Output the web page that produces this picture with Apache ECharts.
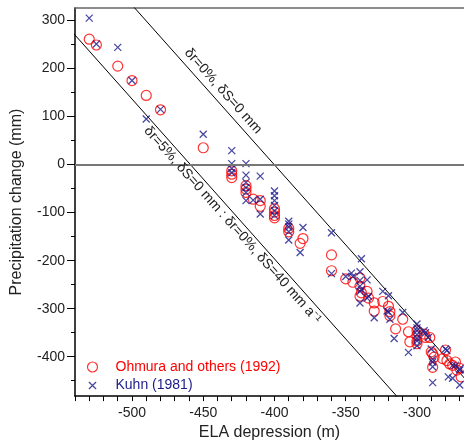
<!DOCTYPE html>
<html><head><meta charset="utf-8">
<script src="https://cdn.jsdelivr.net/npm/echarts@6/dist/echarts.min.js"></script>
<style>html,body{margin:0;padding:0;background:#fff}#c{width:464px;height:446px}</style>
</head><body><div id="c"></div>
<script>
// ---- data ----
const ohmuraX = [-530,-525,-510,-500,-490,-480,-450,-430,-430,-430,-420,-420,-420,-415,-410,-410,-400,-400,-400,-400,-390,-390,-380,-382,-360,-360,-350,-345,-340,-340,-339,-340,-335,-334,-330,-330,-324,-320,-319,-319,-315,-310,-306,-305,-300,-300,-300,-300,-295,-294,-291,-290,-289,-288,-289,-280,-282,-279,-277,-275,-273,-272,-270,-269];
const ohmuraY = [261,249,205,175,144,114,35,-13,-20,-27,-44,-51,-58,-72,-75,-87,-92,-99,-106,-111,-133,-140,-154,-164,-188,-221,-238,-245,-236,-253,-267,-274,-264,-278,-288,-305,-285,-295,-306,-315,-342,-322,-348,-369,-346,-356,-367,-373,-353,-360,-360,-390,-394,-401,-422,-386,-404,-408,-415,-418,-411,-428,-424,-442];
const kuhnX = [-530,-525,-510,-500,-490,-480,-450,-430,-430,-430,-430,-420,-420,-420,-420,-420,-420,-415,-410,-410,-410,-400,-400,-400,-400,-400,-400,-390,-390,-390,-390,-390,-380,-382,-360,-360,-339,-350,-346,-345,-340,-340,-340,-339,-340,-340,-335,-334,-335,-330,-324,-320,-321,-320,-319,-316,-310,-306,-300,-300,-300,-300,-300,-300,-300,-295,-294,-292,-290,-289,-289,-289,-289,-280,-279,-278,-275,-275,-273,-270,-270,-270];
const kuhnY = [305,251,244,175,95,115,63,29,2,-8,-17,2,-22,-37,-48,-58,-75,-74,-24,-72,-103,-55,-65,-75,-85,-96,-106,-118,-124,-130,-140,-157,-131,-183,-142,-227,-196,-233,-226,-233,-223,-241,-253,-260,-264,-288,-240,-274,-278,-319,-264,-273,-305,-307,-322,-362,-308,-391,-332,-340,-346,-354,-362,-367,-377,-346,-350,-360,-384,-405,-411,-421,-454,-384,-387,-442,-445,-418,-418,-428,-459,-425];
const xTickLabels = [-500,-450,-400,-350,-300];
const yTickLabels = [-400,-300,-200,-100,0,100,200,300];
const yMinorTicks = [-450,-350,-250,-150,-50,50,150,250];
// reference lines: ELA depression where precipitation change is zero, and slope (mm per m)
const upperLineDef = {xAtZero: -400.2, slope: -3.33, xFrom: -520, xTo: -250};
const lowerLineDef = {xAtZero: -459, slope: -3.33, xFrom: -560, xTo: -290};
const upperLabel = {text: 'δr=0%, δS=0 mm', x: -436, y: 153};
const lowerLabel = {text: 'δr=5%, δS=0 mm : δr=0%, δS=40 mm a⁻¹', x: -429.5, y: -126};

const X_MIN = -540, X_MAX = -267, Y_MIN = -482, Y_MAX = 326;
const xMinorTicks = [];
for (let v = -540; v <= -270; v += 10) xMinorTicks.push(v);

const FONT = '"Liberation Sans", Arial, Helvetica, sans-serif';
const RED = '#ff0000', NAVY = '#1a1a8c';
const X_PATH = 'path://M0 0L10 10M10 0L0 10';
const X_PATH_LEGEND = 'path://M-2 -2L-2 -2M0 0L10 10M10 0L0 10M12 12L12 12';

function linePts(d) {
  return [d.xFrom, d.xTo].map(x => [x, d.slope * (x - d.xAtZero)]);
}
const zip = (a, b) => a.map((v, i) => [v, b[i]]);

const chart = echarts.init(document.getElementById('c'), null, {renderer: 'canvas'});
chart.setOption({
  animation: false,
  backgroundColor: '#fff',
  textStyle: {fontFamily: FONT},
  grid: {left: 75, top: 8, right: 0, bottom: 45, containLabel: false},
  legend: {
    orient: 'vertical', left: 80, top: 355, itemWidth: 36, itemHeight: 10, itemGap: 4,
    selectedMode: false,
    textStyle: {fontSize: 14, fontFamily: FONT},
    data: [
      {name: 'Ohmura and others (1992)', icon: 'circle',
       itemStyle: {color: 'rgba(0,0,0,0)', borderColor: RED, borderWidth: 1.2},
       textStyle: {color: RED, fontSize: 14, fontFamily: FONT}},
      {name: 'Kuhn (1981)', icon: X_PATH_LEGEND,
       itemStyle: {color: 'none', borderColor: NAVY, borderWidth: 1.3},
       textStyle: {color: NAVY, fontSize: 14, fontFamily: FONT}}
    ]
  },
  xAxis: [
    {type: 'value', min: X_MIN, max: X_MAX, position: 'bottom',
     axisLine: {onZero: false, lineStyle: {color: '#000', width: 1.5}},
     axisTick: {customValues: xMinorTicks, length: 5, lineStyle: {color: '#000', width: 1}},
     axisLabel: {customValues: xTickLabels, fontSize: 14, color: '#222', margin: 10, fontFamily: FONT},
     splitLine: {show: false},
     name: 'ELA depression (m)', nameLocation: 'middle', nameGap: 25,
     nameTextStyle: {fontSize: 16, color: '#222', fontFamily: FONT}},
    {type: 'value', min: X_MIN, max: X_MAX, position: 'top',
     axisLine: {onZero: false, lineStyle: {color: '#666', width: 1.5}},
     axisTick: {show: false}, axisLabel: {show: false}, splitLine: {show: false}}
  ],
  yAxis: [
    {type: 'value', min: Y_MIN, max: Y_MAX, position: 'left',
     axisLine: {onZero: false, lineStyle: {color: '#000', width: 1.5}},
     axisTick: {customValues: yTickLabels, length: 8, lineStyle: {color: '#000', width: 1}},
     axisLabel: {customValues: yTickLabels, fontSize: 14, color: '#222', margin: 10, fontFamily: FONT},
     splitLine: {show: false},
     name: 'Precipitation change (mm)', nameLocation: 'middle', nameGap: 50,
     nameTextStyle: {fontSize: 16, color: '#222', fontFamily: FONT}},
    {type: 'value', min: Y_MIN, max: Y_MAX, position: 'left',
     axisLine: {show: false},
     axisTick: {customValues: yMinorTicks, length: 4, lineStyle: {color: '#000', width: 1}},
     axisLabel: {show: false}, splitLine: {show: false}}
  ],
  series: [
    {type: 'line', name: 'upper', data: linePts(upperLineDef), symbol: 'none', silent: true, z: 1,
     lineStyle: {color: '#000', width: 1}, emphasis: {disabled: true}, clip: true,
     markLine: {silent: true, symbol: 'none', label: {show: false},
       lineStyle: {color: '#777', width: 2, type: 'solid'}, data: [{yAxis: 0}]}},
    {type: 'line', name: 'lower', data: linePts(lowerLineDef), symbol: 'none', silent: true, z: 1,
     lineStyle: {color: '#000', width: 1}, emphasis: {disabled: true}, clip: true},
    {type: 'scatter', name: 'Ohmura and others (1992)', data: zip(ohmuraX, ohmuraY),
     symbol: 'circle', symbolSize: 10, z: 3, emphasis: {disabled: true},
     itemStyle: {color: 'rgba(0,0,0,0)', borderColor: RED, borderWidth: 1.2}},
    {type: 'scatter', name: 'Kuhn (1981)', data: zip(kuhnX, kuhnY),
     symbol: X_PATH, symbolSize: 7, z: 4, emphasis: {disabled: true},
     itemStyle: {color: 'none', borderColor: NAVY, borderWidth: 1.3}}
  ]
});

function angleOf(d) {
  const pts = linePts(d).map(p => chart.convertToPixel({xAxisIndex: 0, yAxisIndex: 0}, p));
  return Math.atan2(pts[1][1] - pts[0][1], pts[1][0] - pts[0][0]);
}
function labelGraphic(lbl, d) {
  const p = chart.convertToPixel({xAxisIndex: 0, yAxisIndex: 0}, [lbl.x, lbl.y]);
  return {type: 'text', x: p[0], y: p[1], rotation: -angleOf(d), silent: true, z: 10,
    style: {text: lbl.text, font: '14px ' + FONT, fill: '#222',
      align: 'center', verticalAlign: 'middle', textAlign: 'center', textVerticalAlign: 'middle'}};
}
chart.setOption({graphic: [labelGraphic(upperLabel, upperLineDef), labelGraphic(lowerLabel, lowerLineDef)]});
</script></body></html>
